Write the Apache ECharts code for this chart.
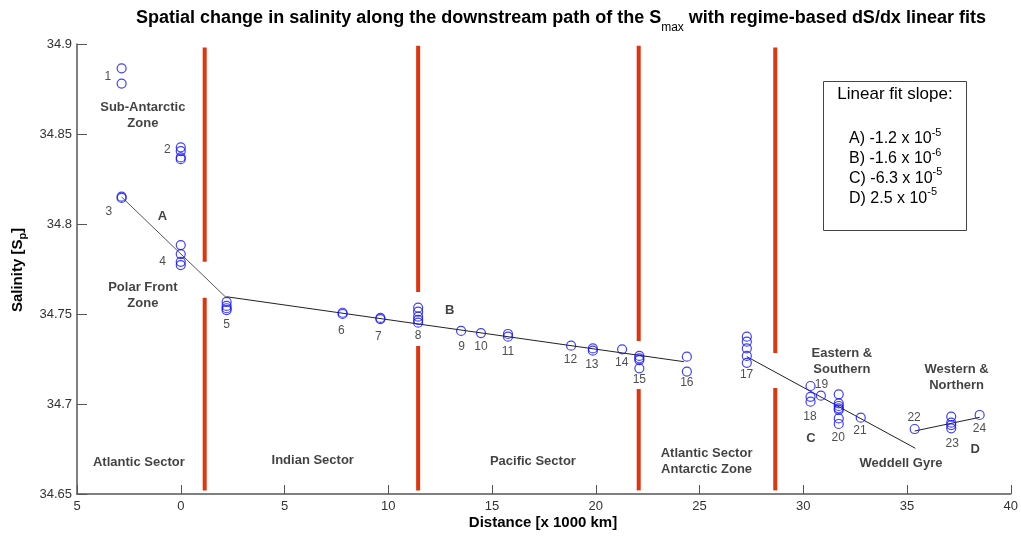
<!DOCTYPE html>
<html><head><meta charset="utf-8">
<script src="https://cdn.jsdelivr.net/npm/echarts@6/dist/echarts.min.js"></script>
<style>html,body{margin:0;padding:0;background:#fff}#c{width:1021px;height:539px}</style>
</head><body><div id="c"></div>
<script>
// ---- data ----
const xTickLabels = ['5','0','5','10','15','20','25','30','35','40'];
const stationIds = ['1','2','3','4','5','6','7','8','9','10','11','12','13','14','15','16','17','18','19','20','21','22','23','24'];
const stationX = [-2.85, 0, -2.85, 0, 2.21, 7.80, 9.62, 11.44, 13.51, 14.47, 15.77, 18.81, 19.86, 21.27, 22.10, 24.39, 27.28, 30.35, 30.85, 31.71, 32.77, 35.37, 37.13, 38.5];
const stationS = [
  [34.8865, 34.878],
  [34.8426, 34.8405, 34.837, 34.836],
  [34.8152, 34.8145],
  [34.7883, 34.7833, 34.779, 34.7772],
  [34.7567, 34.7545, 34.7532, 34.7522],
  [34.7507, 34.7500],
  [34.7478, 34.7472],
  [34.7535, 34.7513, 34.7485, 34.7467, 34.7452],
  [34.7406],
  [34.7394],
  [34.7389, 34.7374],
  [34.7324],
  [34.7309, 34.7296],
  [34.7304],
  [34.7267, 34.7254, 34.7244, 34.7198],
  [34.7263, 34.718],
  [34.7374, 34.7346, 34.7309, 34.7267, 34.7229],
  [34.710, 34.704, 34.7013],
  [34.7046],
  [34.7054, 34.7004, 34.6989, 34.6976, 34.6967, 34.692, 34.6889],
  [34.6924],
  [34.6861],
  [34.693, 34.6896, 34.6883, 34.6865],
  [34.6939]
];
const fitA = [[-2.85, 34.815], [2.2, 34.759]];
const fitB = [[2.2, 34.7596], [24.25, 34.7235]];
const fitC = [[27.28, 34.7263], [35.4, 34.6754]];
const fitD = [[35.37, 34.685], [38.5, 34.6926]];
const fitSlopes = [['A)', '-1.2 x 10', '-5'], ['B)', '-1.6 x 10', '-6'], ['C)', '-6.3 x 10', '-5'], ['D)', '2.5 x 10', '-5']];
const dividerX = [1.154, 11.44, 22.07, 28.65];
const dividerSegs = [
  [[34.652, 34.759], [34.779, 34.898]],
  [[34.652, 34.7322], [34.7622, 34.899]],
  [[34.652, 34.7083], [34.735, 34.899]],
  [[34.652, 34.7089], [34.7283, 34.898]]
];
// station number label anchors (data coords)
const stationLabelX = [-3.51, -0.65, -3.46, -0.87, 2.21, 7.74, 9.52, 11.44, 13.53, 14.47, 15.77, 18.78, 19.81, 21.25, 22.10, 24.39, 27.27, 30.32, 30.88, 31.68, 32.73, 35.34, 37.18, 38.49];
const stationLabelY = [34.8817, 34.8411, 34.807, 34.7789, 34.7439, 34.7406, 34.7375, 34.7378, 34.7317, 34.7317, 34.7292, 34.7244, 34.7217, 34.7228, 34.7133, 34.7118, 34.7161, 34.6929, 34.7106, 34.6813, 34.685, 34.6926, 34.6782, 34.6861];
// region annotations (data coords)
const regionText = ['Sub-Antarctic\nZone', 'A', 'Polar Front\nZone', 'Atlantic Sector', 'B', 'Indian Sector', 'Pacific Sector', 'Atlantic Sector\nAntarctic Zone', 'Eastern &\nSouthern', 'Western &\nNorthern', 'C', 'D', 'Weddell Gyre'];
const regionX = [-1.827, -0.88, -1.827, -2.019, 12.966, 6.36, 16.97, 25.34, 31.86, 37.39, 30.37, 38.28, 34.71];
const regionY = [34.8603, 34.8041, 34.7604, 34.6676, 34.7518, 34.6685, 34.6683, 34.6683, 34.7235, 34.7147, 34.681, 34.675, 34.667];

// ---- build ----
const FONT = 'Liberation Sans, Arial, sans-serif';
const pts = [];
stationS.forEach((arr, i) => arr.forEach(v => pts.push([stationX[i], v])));

const series = [];
dividerSegs.forEach((segs, i) => segs.forEach(s => {
  series.push({type: 'line', data: [[dividerX[i], s[0]], [dividerX[i], s[1]]], symbol: 'none', silent: true,
    lineStyle: {color: '#e0340c', width: 4}, z: 1});
}));
[[fitA, '#555'], [fitB, '#222'], [fitC, '#222'], [fitD, '#222']].forEach(f => {
  series.push({type: 'line', data: f[0], symbol: 'none', silent: true, lineStyle: {color: f[1], width: 1}, z: 2});
});
series.push({type: 'scatter', data: pts, symbol: 'circle', symbolSize: 9, silent: true,
  itemStyle: {color: 'rgba(0,0,0,0)', borderColor: '#1010ff', borderWidth: 1.2}, z: 3});
series.push({type: 'scatter', symbolSize: 0, silent: true, z: 4,
  data: stationIds.map((id, i) => ({name: id, value: [stationLabelX[i], stationLabelY[i]]})),
  label: {show: true, position: 'inside', formatter: '{b}', color: '#222', fontSize: 12, fontFamily: FONT}});
series.push({type: 'scatter', symbolSize: 0, silent: true, z: 4,
  data: regionText.map((t, i) => ({name: t, value: [regionX[i], regionY[i]]})),
  label: {show: true, position: 'inside', formatter: '{b}', color: '#111', fontSize: 13, fontWeight: 'bold', fontFamily: FONT, lineHeight: 16, align: 'center'}});

const graphic = [
  {type: 'text', x: 561, y: 18, style: {
    text: 'Spatial change in salinity along the downstream path of the S{sub|max} with regime-based dS/dx linear fits',
    font: 'bold 18px ' + FONT, fill: '#000', align: 'center', verticalAlign: 'middle',
    rich: {sub: {fontSize: 12, fontWeight: 'normal', padding: [20, 0, 0, 0]}}
  }},
  {type: 'text', x: 18, y: 270, rotation: Math.PI / 2, style: {
    text: 'Salinity [S{sub|p}]', font: 'bold 15px ' + FONT, fill: '#000', align: 'center', verticalAlign: 'middle',
    rich: {sub: {fontSize: 11, fontWeight: 'bold', padding: [10, 0, 0, 0]}}
  }},
  {type: 'text', x: 543, y: 523, style: {
    text: 'Distance [x 1000 km]', font: 'bold 15px ' + FONT, fill: '#000', align: 'center', verticalAlign: 'middle'
  }},
  {type: 'rect', shape: {x: 823.5, y: 81.5, width: 143, height: 149}, style: {fill: '#fff', stroke: '#444', lineWidth: 1}, z: 10},
  {type: 'text', x: 895, y: 94, z: 11, style: {text: 'Linear fit slope:', font: '17px ' + FONT, fill: '#000', align: 'center', verticalAlign: 'middle'}}
];
fitSlopes.forEach((s, i) => {
  graphic.push({type: 'text', x: 849, y: 139 + i * 19.7, z: 11, style: {
    text: s[0] + ' ' + s[1] + '{sup|' + s[2] + '}', font: '16px ' + FONT, fill: '#000', align: 'left', verticalAlign: 'middle',
    rich: {sup: {fontSize: 11, padding: [0, 0, 12, 0]}}
  }});
});

const chart = echarts.init(document.getElementById('c'), null, {renderer: 'canvas'});
chart.setOption({
  animation: false,
  backgroundColor: '#fff',
  grid: {left: 77, right: 8, top: 44, bottom: 45, containLabel: false},
  xAxis: {type: 'value', min: -5, max: 40, interval: 5,
    axisLine: {show: true, onZero: false, lineStyle: {color: '#555', width: 1.5}},
    axisTick: {show: true, inside: true, length: 9, lineStyle: {color: '#555'}},
    axisLabel: {color: '#333', fontSize: 13, fontFamily: FONT, margin: 6,
      formatter: v => xTickLabels[Math.round((v + 5) / 5)]},
    splitLine: {show: false}},
  yAxis: {type: 'value', min: 34.65, max: 34.9, interval: 0.05,
    axisLine: {show: true, onZero: false, lineStyle: {color: '#555', width: 1.5}},
    axisTick: {show: true, inside: true, length: 10, lineStyle: {color: '#555'}},
    axisLabel: {color: '#333', fontSize: 13, fontFamily: FONT, margin: 5,
      formatter: v => String(+v.toFixed(2))},
    splitLine: {show: false}},
  series: series,
  graphic: graphic
});
</script></body></html>
